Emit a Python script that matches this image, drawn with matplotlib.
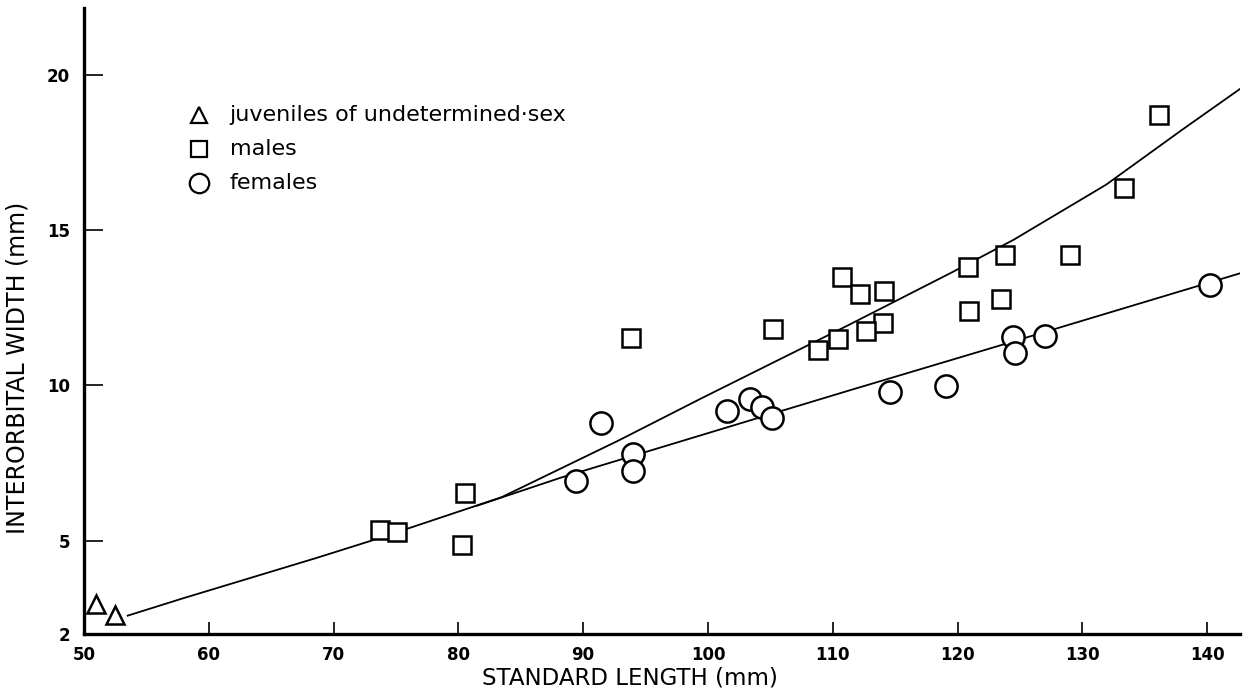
import matplotlib
matplotlib.use("Agg")
import matplotlib.pyplot as plt

# values
juv_len = [51.0, 52.5]
juv_width = [2.95, 2.62]

male_len = [73.7, 75.1, 80.5, 80.3, 93.8, 105.2, 108.8, 110.4, 110.7, 112.2,
            114.1, 114.0, 112.7, 120.8, 120.9, 123.5, 123.8, 129.0, 133.3, 136.1]
male_width = [5.36, 5.29, 6.55, 4.88, 11.54, 11.81, 11.15, 11.50, 13.49, 12.94,
              13.03, 12.00, 11.75, 13.80, 12.39, 12.79, 14.21, 14.19, 16.35, 18.69]

female_len = [89.45, 91.45, 94.0, 94.0, 101.5, 103.4, 104.3, 105.1, 114.6, 119.1,
              124.4, 124.6, 127.0, 140.2]
female_width = [6.91, 8.79, 7.80, 7.24, 9.19, 9.56, 9.31, 8.96, 9.78, 9.98,
                11.57, 11.05, 11.59, 13.23]

# fitted curves
male_fit_len = [53.5, 57.95, 63.3, 68.65, 73.0, 76.45, 83.45, 92.8, 99.5,
                111.3, 119.6, 124.5, 131.9, 138.0, 142.8]
male_fit_width = [2.59, 3.15, 3.80, 4.45, 5.0, 5.46, 6.40, 8.22, 9.59,
                  11.95, 13.65, 14.69, 16.46, 18.23, 19.59]
female_fit_len = [81.5, 88.2, 103.5, 111.5, 123.35, 142.9]
female_fit_width = [6.13, 7.03, 8.89, 9.86, 11.28, 13.64]

x_ticks = [50, 60, 70, 80, 90, 100, 110, 120, 130, 140]
y_ticks = [2, 5, 10, 15, 20]

fig = plt.figure(figsize=(12.44, 6.98), dpi=100)
ax = fig.add_axes([0.0675, 0.0917, 0.929, 0.897])

ax.plot(male_fit_len, male_fit_width, color="black", lw=1.3, zorder=1)
ax.plot(female_fit_len, female_fit_width, color="black", lw=1.3, zorder=1)

mk = dict(linestyle="none", color="black", markerfacecolor="white", markeredgewidth=1.8, zorder=3)
ax.plot(juv_len, juv_width, marker="^", markersize=13, **mk)
ax.plot(male_len, male_width, marker="s", markersize=13, **mk)
ax.plot(female_len, female_width, marker="o", markersize=16, **mk)

ax.set_xlim(50, 142.6)
ax.set_ylim(2, 22.15)
ax.set_xticks(x_ticks)
ax.set_yticks(y_ticks)

for side in ["top", "right"]:
    ax.spines[side].set_visible(False)
for side in ["left", "bottom"]:
    ax.spines[side].set_linewidth(2.4)

ax.tick_params(axis="x", direction="in", length=9, width=1.2, pad=9, labelsize=12)
ax.tick_params(axis="y", direction="in", length=14, width=1.2, pad=10, labelsize=12)
for lab in ax.get_xticklabels() + ax.get_yticklabels():
    lab.set_fontweight("bold")

ax.set_xlabel("STANDARD LENGTH (mm)", fontsize=16.5)
ax.xaxis.set_label_coords(0.472, -0.052)
ax.set_ylabel("INTERORBITAL WIDTH (mm)", fontsize=17)
ax.yaxis.set_label_coords(-0.047, 0.425)

# legend drawn by hand, like the original lettering
legend_items = [("^", 12, "juveniles of undetermined·sex"),
                ("s", 12, "males"),
                ("o", 14, "females")]
for i, (m, ms, txt) in enumerate(legend_items):
    yy = 0.829 - i * 0.0545
    ax.plot([0.0995], [yy], transform=ax.transAxes, marker=m, markersize=ms,
            linestyle="none", color="black", markerfacecolor="white",
            markeredgewidth=1.6, clip_on=False)
    ax.text(0.126, yy, txt, transform=ax.transAxes, fontsize=16, va="center", ha="left")

fig.savefig("out.png", dpi=100)
